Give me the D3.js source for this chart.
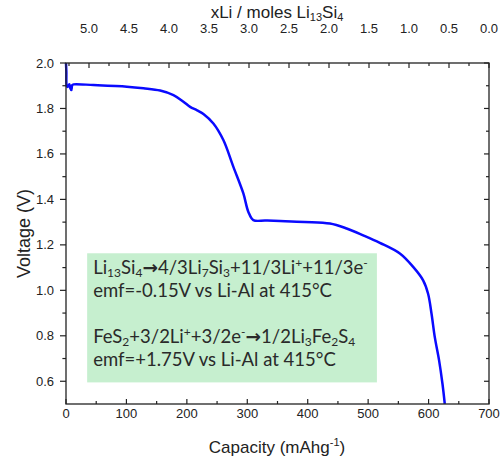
<!DOCTYPE html>
<html>
<head>
<meta charset="utf-8">
<script src="https://cdn.jsdelivr.net/npm/d3@7"></script>
<style>
  body { margin: 0; background: #fff; }
  svg { display: block; }
</style>
</head>
<body>
<svg id="chart" width="502" height="460"></svg>
<script>
// discharge curve
const capacity = [0, 0.6, 1.3, 3, 5.5, 7, 8.8, 10.4, 12.6, 45.6, 100.8, 128.2, 155.8, 177.8, 194.3,
  205.4, 217, 227.4, 243.9, 260.4, 277, 293.5, 301.8, 310, 330, 354.2, 395, 436.8, 464.4, 491.8, 519.4,
  552.5, 574.5, 591, 599.2, 604.9, 610.3, 617.4, 623, 626.8]
const voltage = [2.0, 1.96, 1.899, 1.895, 1.907, 1.89, 1.881, 1.903, 1.906, 1.903, 1.896, 1.889, 1.879, 1.859, 1.83,
  1.807, 1.792, 1.776, 1.734, 1.661, 1.543, 1.426, 1.345, 1.309, 1.307, 1.305, 1.301, 1.294, 1.272, 1.242, 1.209,
  1.162, 1.103, 1.044, 0.985, 0.897, 0.794, 0.692, 0.589, 0.501]

const capTicks = [0, 100, 200, 300, 400, 500, 600, 700]
const voltTicks = [0.6, 0.8, 1.0, 1.2, 1.4, 1.6, 1.8, 2.0]
const xLiTicks = [5.0, 4.5, 4.0, 3.5, 3.0, 2.5, 2.0, 1.5, 1.0, 0.5, 0.0]

const boxLines = [
  [['Li', ''], ['13', 'sub'], ['Si', ''], ['4', 'sub'], ['\u2192', 'arrow'], ['4/3Li', ''], ['7', 'sub'], ['Si', ''], ['3', 'sub'],
    ['+11/3Li', ''], ['+', 'sup'], ['+11/3e', ''], ['-', 'sup']],
  [['emf=-0.15V vs Li-Al at 415\u00b0C', '']],
  [['FeS', ''], ['2', 'sub'], ['+3/2Li', ''], ['+', 'sup'], ['+3/2e', ''], ['-', 'sup'], ['\u2192', 'arrow'], ['1/2Li', ''],
    ['3', 'sub'], ['Fe', ''], ['2', 'sub'], ['S', ''], ['4', 'sub']],
  [['emf=+1.75V vs Li-Al at 415\u00b0C', '']],
]

const margin = { top: 63, right: 13, bottom: 56, left: 66 }
const width = 502, height = 460
const axisFont = 'Liberation Sans, Arial, sans-serif'

const svg = d3.select('#chart')

const x = d3.scaleLinear().domain([0, 700]).range([margin.left, width - margin.right])
const y = d3.scaleLinear().domain([0.5, 2.0]).range([height - margin.bottom, margin.top])
// top axis: 0.0 sits on the right edge, 0.25 per 20px
const xTop = d3.scaleLinear().domain([0, 5.0]).range([x(700), x(700) - 400])

const plotL = x.range()[0], plotR = x.range()[1]
const plotT = y.range()[1], plotB = y.range()[0]

// green annotation box
svg.append('rect')
  .attr('x', x(35)).attr('y', y(1.163))
  .attr('width', x(514.5) - x(35))
  .attr('height', y(0.595) - y(1.163))
  .attr('fill', '#c6efcf')

const lineY = [274, 297, 343, 366]
boxLines.forEach((parts, i) => {
  const t = svg.append('text')
    .attr('x', x(35) + 6)
    .attr('y', lineY[i])
    .attr('font-family', 'Lato, Open Sans, sans-serif')
    .attr('font-size', 18.5)
    .attr('fill', '#2a2a2a')
  parts.forEach(([s, kind]) => {
    const sp = t.append('tspan').text(s)
    if (kind === 'sub') sp.attr('font-size', 12).attr('baseline-shift', '-25%')
    if (kind === 'sup') sp.attr('font-size', 12).attr('baseline-shift', '55%')
    if (kind === 'arrow') sp.attr('font-family', 'DejaVu Sans').attr('font-weight', 'bold')
  })
})

// curve
const line = d3.line().x((d) => x(d[0])).y((d) => y(d[1])).curve(d3.curveCatmullRom.alpha(0.5))
svg.append('path')
  .datum(capacity.map((c, i) => [c, voltage[i]]))
  .attr('d', line)
  .attr('fill', 'none')
  .attr('stroke', '#0a0aff')
  .attr('stroke-width', 2.5)
  .attr('stroke-linejoin', 'round')

// ticks helper
function ticks(values, major, pos, len, dir, horizontal) {
  const g = svg.append('g').attr('stroke', '#222').attr('stroke-width', 1.2)
  values.forEach((v) => {
    const p = pos(v)
    const l = major ? len : len * 0.6
    if (horizontal) {
      g.append('line').attr('x1', p).attr('x2', p).attr('y1', dir.base).attr('y2', dir.base + dir.sign * l)
    } else {
      g.append('line').attr('y1', p).attr('y2', p).attr('x1', dir.base).attr('x2', dir.base + dir.sign * l)
    }
  })
}

const capMinor = d3.range(50, 700, 100)
const voltMinor = d3.range(0.7, 2.0, 0.2)
const xLiMinor = d3.range(0.25, 5.3, 0.5)

// bottom (inward)
ticks(capTicks, true, x, 5, { base: plotB, sign: -1 }, true)
ticks(capMinor, false, x, 5, { base: plotB, sign: -1 }, true)
// top (inward)
ticks(xLiTicks, true, xTop, 5, { base: plotT, sign: 1 }, true)
ticks(xLiMinor, false, xTop, 5, { base: plotT, sign: 1 }, true)
// left (outward)
ticks(voltTicks, true, y, 6, { base: plotL, sign: -1 }, false)
ticks(voltMinor, false, y, 6, { base: plotL, sign: -1 }, false)
// right (inward)
ticks(voltTicks, true, y, 5, { base: plotR, sign: -1 }, false)
ticks(voltMinor, false, y, 5, { base: plotR, sign: -1 }, false)

// frame
svg.append('rect')
  .attr('x', plotL).attr('y', plotT)
  .attr('width', plotR - plotL).attr('height', plotB - plotT)
  .attr('fill', 'none').attr('stroke', '#222').attr('stroke-width', 1.3)

// tick labels
const labelG = svg.append('g')
  .attr('font-family', axisFont).attr('font-size', 13).attr('fill', '#222')

labelG.selectAll('.bx').data(capTicks).join('text')
  .attr('x', (d) => x(d)).attr('y', plotB + 14)
  .attr('text-anchor', 'middle').text((d) => d)

labelG.selectAll('.tx').data(xLiTicks).join('text')
  .attr('x', (d) => xTop(d)).attr('y', 33)
  .attr('text-anchor', 'middle').text((d) => d.toFixed(1))

labelG.selectAll('.ly').data(voltTicks).join('text')
  .attr('x', plotL - 12).attr('y', (d) => y(d) + 4.5)
  .attr('text-anchor', 'end').text((d) => d.toFixed(1))

// axis titles
const bottomTitle = svg.append('text')
  .attr('x', 277).attr('y', 453)
  .attr('text-anchor', 'middle')
  .attr('font-family', axisFont).attr('font-size', 17).attr('fill', '#222')
bottomTitle.append('tspan').text('Capacity (mAhg')
bottomTitle.append('tspan').text('-1').attr('font-size', 11).attr('baseline-shift', '60%')
bottomTitle.append('tspan').text(')')

const topTitle = svg.append('text')
  .attr('x', 277).attr('y', 18)
  .attr('text-anchor', 'middle')
  .attr('font-family', axisFont).attr('font-size', 17).attr('fill', '#222')
topTitle.append('tspan').text('xLi / moles Li')
topTitle.append('tspan').text('13').attr('font-size', 11).attr('baseline-shift', '-30%')
topTitle.append('tspan').text('Si')
topTitle.append('tspan').text('4').attr('font-size', 11).attr('baseline-shift', '-30%')

svg.append('text')
  .attr('transform', `translate(29.5,${(plotT + plotB) / 2}) rotate(-90)`)
  .attr('text-anchor', 'middle')
  .attr('font-family', axisFont).attr('font-size', 18).attr('fill', '#222')
  .text('Voltage (V)')
</script>
</body>
</html>
